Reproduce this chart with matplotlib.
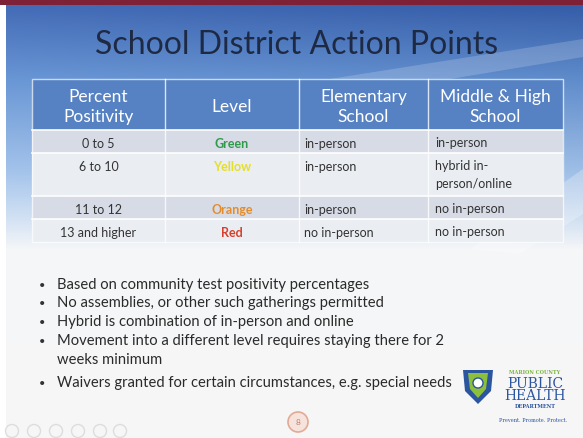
import numpy as np
import matplotlib
matplotlib.use("Agg")
import matplotlib.pyplot as plt
from matplotlib.patches import Rectangle, Circle, Polygon

# ---------------- data ----------------
title = "School District Action Points"
headers = ["Percent\nPositivity", "Level", "Elementary\nSchool", "Middle & High\nSchool"]
positivity = ["0 to 5", "6 to 10", "11 to 12", "13 and higher"]
levels = ["Green", "Yellow", "Orange", "Red"]
level_colors = ["#2f9a4a", "#e6df2a", "#e58c2a", "#d6402c"]
elementary = ["in-person", "in-person", "in-person", "no in-person"]
middle_high = ["in-person", "hybrid in-\nperson/online", "no in-person", "no in-person"]
bullets = [
    "Based on community test positivity percentages",
    "No assemblies, or other such gatherings permitted",
    "Hybrid is combination of in-person and online",
    "Movement into a different level requires staying there for 2\nweeks minimum",
    "Waivers granted for certain circumstances, e.g. special needs",
]

# ---------------- layout ----------------
W, H = 583, 439
FONT = "Lato"
fig = plt.figure(figsize=(W / 100, H / 100), dpi=100)
ax = fig.add_axes([0, 0, 1, 1])
ax.set_xlim(0, W)
ax.set_ylim(H, 0)
ax.axis("off")

# background gradient
ys = np.array([0, 6, 80, 170, 215, 250, 439])
cols = np.array([
    [60, 100, 175],
    [60, 100, 175],
    [100, 145, 208],
    [160, 192, 232],
    [205, 222, 242],
    [245, 246, 248],
    [247, 247, 247],
]) / 255.0
yy = np.arange(H)
grad = np.stack([np.interp(yy, ys, cols[:, i]) for i in range(3)], axis=1)
img = np.repeat(grad[:, None, :], W, axis=1)
xx = np.linspace(0, 1, W)
shade = (0.06 * (xx - 0.5))[None, :, None] * (np.clip(1 - yy / 250.0, 0, 1))[:, None, None]
img = np.clip(img - shade, 0, 1)
ax.imshow(img, extent=[0, W, H, 0], aspect="auto", zorder=0, interpolation="bilinear")

# light swooshes
ax.add_patch(Polygon([[330, 80], [583, 40], [583, 58], [420, 85]], closed=True,
                     facecolor="white", alpha=0.18, edgecolor="none", zorder=1))
ax.add_patch(Polygon([[470, 250], [583, 170], [583, 215], [520, 255]], closed=True,
                     facecolor="white", alpha=0.25, edgecolor="none", zorder=1))

# left white strip and top maroon bar
ax.add_patch(Rectangle((0, 0), 6, H, facecolor="white", edgecolor="none", zorder=2))
ax.add_patch(Rectangle((0, 0), W, 6, facecolor="#7e2137", edgecolor="none", zorder=3))

# title
ax.text(297, 45, title, ha="center", va="center", fontsize=23, family=FONT,
        color="#1e2a44", zorder=5)

# table geometry
col_x = [32, 165, 299, 428, 563]
row_y = [80, 131, 154, 197, 220, 243]
row_fill = ["#d6dbe5", "#eaedf2", "#d6dbe5", "#eaedf2"]
BODY = 9

# header
ax.add_patch(Rectangle((col_x[0], row_y[0]), col_x[-1] - col_x[0], row_y[1] - row_y[0],
                       facecolor="#5682c3", edgecolor="none", zorder=3))
for i, h in enumerate(headers):
    cx = (col_x[i] + col_x[i + 1]) / 2
    ax.text(cx, (row_y[0] + row_y[1]) / 2 + 1.5, h, ha="center", va="center", fontsize=12.5,
            family=FONT, color="white", linespacing=1.3, zorder=5)

# body rows
for r in range(4):
    y0, y1 = row_y[r + 1], row_y[r + 2]
    ax.add_patch(Rectangle((col_x[0], y0), col_x[-1] - col_x[0], y1 - y0,
                           facecolor=row_fill[r], edgecolor="none", zorder=3))
    ty = y0 + 13.5
    ax.text((col_x[0] + col_x[1]) / 2, ty, positivity[r], ha="center", va="center",
            fontsize=BODY, family=FONT, color="#333333", zorder=5)
    ax.text((col_x[1] + col_x[2]) / 2, ty, levels[r], ha="center", va="center",
            fontsize=BODY, family=FONT, color=level_colors[r], fontweight="bold", zorder=5)
    ax.text(col_x[2] + 5, ty, elementary[r], ha="left", va="center",
            fontsize=BODY, family=FONT, color="#333333", zorder=5)
    ax.text(col_x[3] + 7, ty - 7, middle_high[r], ha="left", va="top",
            fontsize=BODY, family=FONT, color="#333333", linespacing=1.6, zorder=5)

# white separators
for r in range(1, 5):
    ax.plot([col_x[0], col_x[-1]], [row_y[r], row_y[r]], color="white", lw=1.2, zorder=4)
for c in range(1, 4):
    ax.plot([col_x[c], col_x[c]], [row_y[0], row_y[-1]], color="white", lw=1.0, alpha=0.8, zorder=4)
ax.add_patch(Rectangle((col_x[0], row_y[0]), col_x[-1] - col_x[0], row_y[-1] - row_y[0],
                       facecolor="none", edgecolor="white", lw=1.0, alpha=0.7, zorder=4))

# bullets
by = [286, 304, 323, 342, 384]
for i, b in enumerate(bullets):
    ax.text(42, by[i], "\u2022", ha="center", va="center", fontsize=8, family=FONT,
            color="#333333", zorder=5)
    ax.text(57, by[i] - 7.5, b, ha="left", va="top", fontsize=10.6, family=FONT,
            color="#2a2a2a", linespacing=1.45, zorder=5)

# logo
shield = Polygon([[463, 371], [493, 371], [491, 392], [478, 405], [465, 392]], closed=True,
                 facecolor="#2c55a0", edgecolor="none", zorder=5)
ax.add_patch(shield)
ax.add_patch(Polygon([[468, 374], [488, 374], [486, 390], [478, 399], [470, 390]], closed=True,
                     facecolor="#8bbf3c", edgecolor="none", zorder=6))
ax.add_patch(Circle((478, 384), 5, facecolor="white", edgecolor="#2c55a0", lw=1, zorder=7))
ax.text(535, 372.5, "MARION COUNTY", ha="center", va="center", fontsize=3.6, family="DejaVu Serif",
        color="#7cb342", fontweight="bold", zorder=6)
ax.text(535, 384, "PUBLIC", ha="center", va="center", fontsize=10, family="DejaVu Serif",
        color="#2c55a0", zorder=6)
ax.text(535, 396.5, "HEALTH", ha="center", va="center", fontsize=10, family="DejaVu Serif",
        color="#2c55a0", zorder=6)
ax.text(535, 407, "DEPARTMENT", ha="center", va="center", fontsize=3.6, family="DejaVu Serif",
        color="#2c55a0", fontweight="bold", zorder=6)
ax.text(533, 421, "Prevent. Promote. Protect.", ha="center", va="center", fontsize=3.6,
        family="DejaVu Serif", color="#2c55a0", zorder=6)

# page number badge
ax.add_patch(Circle((298, 423), 10, facecolor="#f6e3dc", edgecolor="#e2aa96", lw=1.2, zorder=5))
ax.text(298, 423, "8", ha="center", va="center", fontsize=6, family=FONT, color="#c08070", zorder=6)

# faint slideshow controls bottom-left
for i, cx in enumerate([12, 34, 56, 78, 100, 120]):
    ax.add_patch(Circle((cx, 432), 6.5, facecolor="none", edgecolor="#dddddd", lw=1.0, zorder=5))

fig.savefig("out.png", dpi=100)
